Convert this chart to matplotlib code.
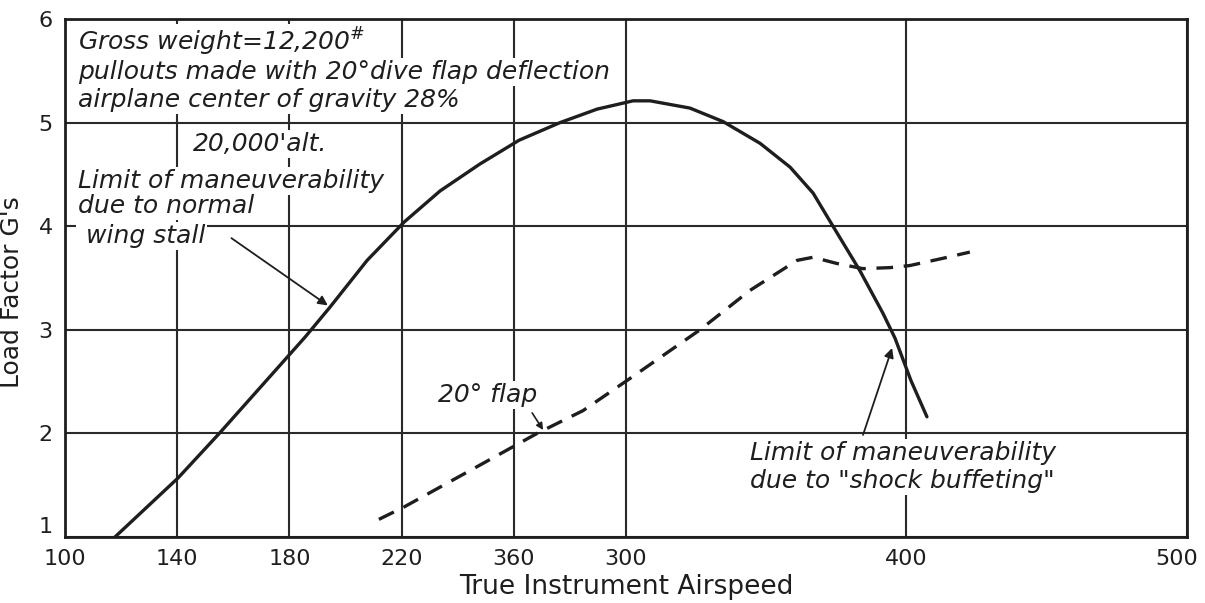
import matplotlib
matplotlib.use("Agg")
import matplotlib.pyplot as plt
from matplotlib.transforms import ScaledTranslation

# values
stall_speed = [117.8, 140.3, 155.0, 185.6, 194.5, 207.7, 220.9, 233.7, 247.9,
               261.9, 276.5, 289.7, 302.5, 308.6, 322.8, 334.6, 347.8, 358.5,
               366.7, 373.8, 383.4, 391.6, 395.9, 401.6, 407.3]
stall_load = [1.00, 1.57, 2.00, 2.93, 3.22, 3.67, 4.04, 4.34, 4.60,
              4.83, 5.00, 5.13, 5.21, 5.21, 5.14, 5.01, 4.80, 4.57,
              4.32, 4.00, 3.57, 3.16, 2.92, 2.51, 2.16]

flap_speed = [211.9, 220.9, 249.0, 268.3, 284.7, 302.5, 326.4, 344.2, 361.0,
              366.7, 375.2, 384.5, 394.1, 401.2, 413.0, 422.6]
flap_load = [1.17, 1.29, 1.71, 2.00, 2.22, 2.55, 3.00, 3.38, 3.67,
             3.70, 3.64, 3.59, 3.60, 3.62, 3.69, 3.75]

x_ticks = [100, 140, 180, 220, 260, 300, 400, 500]
x_tick_labels = ["100", "140", "180", "220", "360", "300", "400", "500"]
y_ticks = [1, 2, 3, 4, 5, 6]

notes = ["Gross weight=12,200$^{\\#}$",
         "pullouts made with 20°dive flap deflection",
         "airplane center of gravity 28%"]
stall_note = ["Limit of maneuverability", "due to normal", " wing stall"]
shock_note = ["Limit of maneuverability", "due to \"shock buffeting\""]

ink = "#1e1e1e"
hand = dict(family="DejaVu Sans", style="italic", color=ink, fontsize=18,
            ha="left", va="baseline", zorder=4,
            bbox=dict(facecolor="white", edgecolor="none", pad=1.5))

fig = plt.figure(figsize=(12.05, 6.03), dpi=100)
ax = fig.add_axes([0.054, 0.1095, 0.931, 0.859])

ax.set_xlim(100, 500)
ax.set_ylim(1, 6)
ax.set_xticks(x_ticks)
ax.set_xticklabels(x_tick_labels)
ax.set_yticks(y_ticks)
ax.tick_params(length=0, labelsize=16, colors=ink)
ax.tick_params(axis="x", pad=9)
ax.tick_params(axis="y", pad=9)
ax.get_yticklabels()[0].set_va("bottom")
# keep the last label inside the picture
last = ax.get_xticklabels()[-1]
last.set_transform(last.get_transform()
                   + ScaledTranslation(-0.1, 0, fig.dpi_scale_trans))
ax.grid(True, color="#2a2a2a", lw=1.5)
ax.set_axisbelow(True)
for s in ax.spines.values():
    s.set_linewidth(2.0)
    s.set_color(ink)

ax.plot(stall_speed, stall_load, color=ink, lw=2.4, solid_capstyle="round", zorder=3)
ax.plot(flap_speed, flap_load, color=ink, lw=2.4, linestyle=(0, (5, 3.2)),
        zorder=3)

ax.set_xlabel("True Instrument Airspeed", fontsize=19, color=ink, labelpad=3)
ax.set_ylabel("Load Factor G's", fontsize=18, color=ink)
ax.yaxis.set_label_coords(-0.037, 0.472)

# notes in the top-left corner
for txt, yb in zip(notes, [5.694, 5.424, 5.154]):
    ax.text(104.6, yb, txt, **hand)
ax.text(145.5, 4.73, "20,000'alt.", **hand)
for txt, yb in zip(stall_note, [4.373, 4.123, 3.834]):
    ax.text(104.6, yb, txt, **hand)
ax.annotate("", xy=(194.5, 3.22), xytext=(158.5, 3.90),
            arrowprops=dict(arrowstyle="-|>", lw=1.3, color=ink,
                            mutation_scale=14), zorder=5)

ax.text(233.0, 2.30, "20° flap", **hand)
ax.annotate("", xy=(271.0, 2.01), xytext=(266.0, 2.22),
            arrowprops=dict(arrowstyle="-|>", lw=1.2, color=ink,
                            mutation_scale=10), zorder=5)

for txt, yb in zip(shock_note, [1.742, 1.472]):
    ax.text(344.2, yb, txt, **hand)
ax.annotate("", xy=(395.2, 2.85), xytext=(384.2, 1.96),
            arrowprops=dict(arrowstyle="-|>", lw=1.3, color=ink,
                            mutation_scale=14), zorder=5)

fig.savefig("out.png", dpi=100)
